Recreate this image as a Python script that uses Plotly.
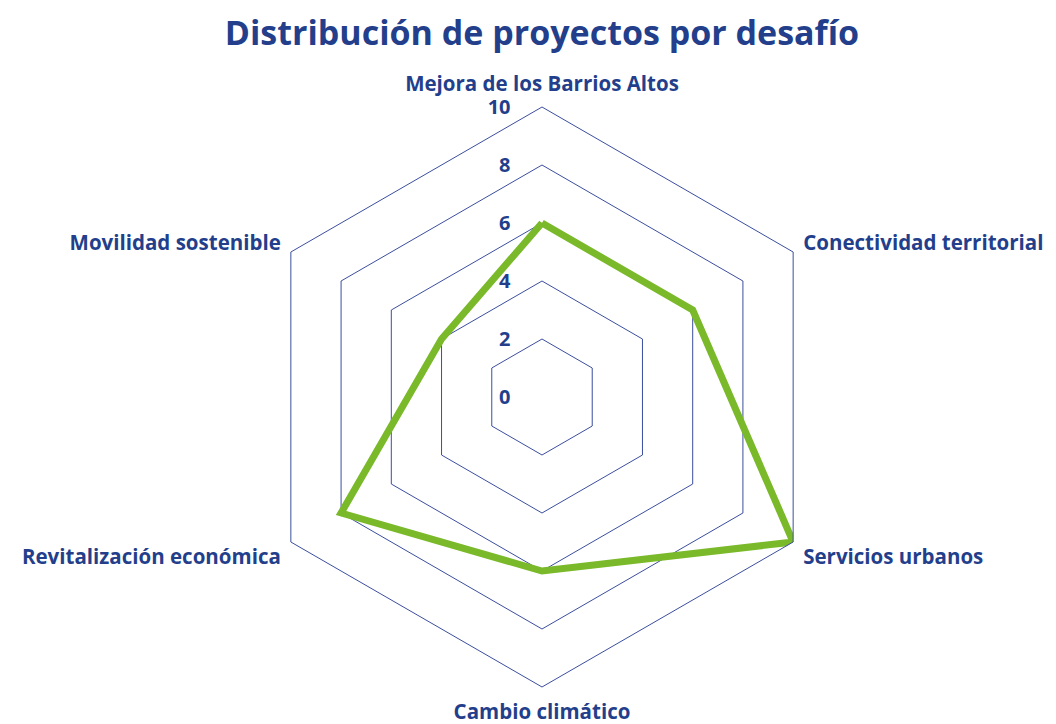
import plotly.graph_objects as go

desafios = ["Mejora de los Barrios Altos", "Conectividad territorial", "Servicios urbanos",
            "Cambio climático", "Revitalización económica", "Movilidad sostenible"]
proyectos = [6, 6, 10, 6, 8, 4]
radial_ticks = [0, 2, 4, 6, 8, 10]

azul = "#233f8c"
verde = "#7ab929"
rejilla = "#3b4e9e"
fuente = "Open Sans"

fig = go.Figure()
fig.add_trace(go.Scatterpolar(
    r=proyectos + proyectos[:1],
    theta=desafios + desafios[:1],
    mode="lines",
    line=dict(color=verde, width=7),
    showlegend=False,
    hoverinfo="skip",
))

fig.update_layout(
    width=1056, height=724,
    paper_bgcolor="white",
    margin=dict(l=244, r=232, t=99, b=45),
    title=dict(text="<b>Distribución de proyectos por desafío</b>",
               x=0.5, xref="paper", y=0.965, yanchor="middle",
               font=dict(family=fuente, size=34, color=azul)),
    polar=dict(
        bgcolor="white",
        gridshape="linear",
        radialaxis=dict(range=[0, 10], tickvals=radial_ticks, angle=90, tickangle=90,
                        side="counterclockwise", showline=False,
                        ticks="outside", ticklen=24, tickcolor="rgba(0,0,0,0)",
                        gridcolor=rejilla, gridwidth=1,
                        tickfont=dict(family=fuente, size=20, color=azul, weight="bold")),
        angularaxis=dict(direction="clockwise", rotation=90, showgrid=False,
                         showline=True, linecolor=rejilla, linewidth=1,
                         ticks="outside", ticklen=7, tickcolor="rgba(0,0,0,0)",
                         tickfont=dict(family=fuente, size=20.5, color=azul, weight="bold")),
    ),
)

fig.write_html("out.html")
